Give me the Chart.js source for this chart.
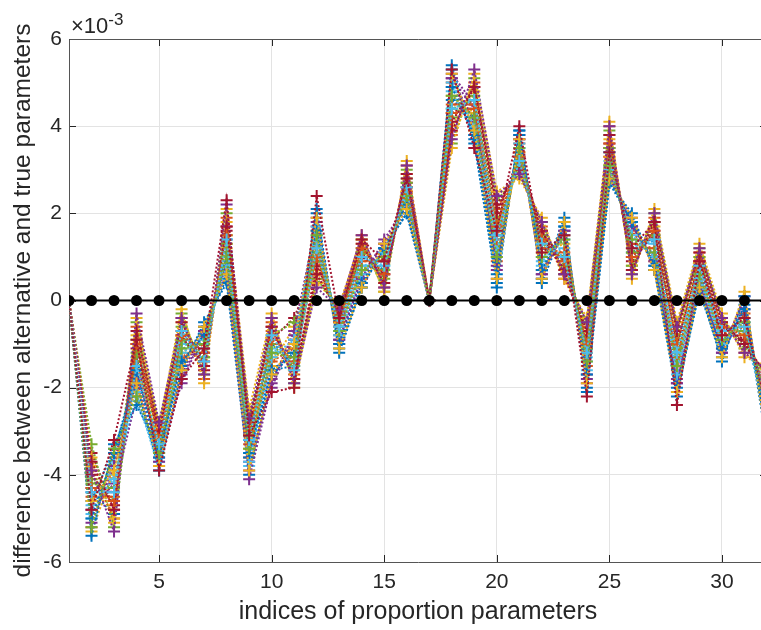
<!DOCTYPE html>
<html>
<head>
<meta charset="utf-8">
<script src="https://cdn.jsdelivr.net/npm/chart.js@4.4.1/dist/chart.umd.min.js"></script>
<style>
  html, body { margin: 0; padding: 0; background: #fff; overflow: hidden; }
  #wrap { width: 780px; height: 630px; }
</style>
</head>
<body>
<div id="wrap"><canvas id="diffChart" width="780" height="630"></canvas></div>
<script>
// parameter indices on the x axis
const paramIndex = [1,2,3,4,5,6,7,8,9,10,11,12,13,14,15,16,17,18,19,20,21,22,23,24,25,26,27,28,29,30,31,32];
// true parameters minus themselves (reference line), in units of 1e-3
const trueDiff = [0,0,0,0,0,0,0,0,0,0,0,0,0,0,0,0,0,0,0,0,0,0,0,0,0,0,0,0,0,0,0,0];

// alternative minus true parameters, one array per run, in units of 1e-3
const run01 = [0,-4.4,-4.9,-1.3,-3.5,-0.9,-1.2,1.4,-3.2,-1.0,-1.3,1.1,-0.5,1.0,0.7,2.6,0,4.6,4.2,1.5,3.3,1.2,1.0,-1.1,3.4,1.1,1.4,-1.2,0.8,-0.7,-0.5,-2.3];
const run02 = [0,-5.2,-3.6,-2.0,-3.1,-1.4,-0.8,0.9,-3.6,-0.7,-1.6,1.6,-0.8,0.6,1.1,2.3,0,5.0,3.9,0.9,3.6,0.7,1.5,-1.5,3.0,1.6,0.9,-1.6,0.5,-1.0,-0.3,-2.8];
const run03 = [0,-3.8,-5.1,-0.8,-3.8,-0.5,-1.5,1.8,-2.8,-1.5,-0.6,0.7,-0.3,1.3,0.4,2.9,0,4.0,4.8,1.9,3.1,1.5,0.7,-0.8,3.7,0.8,1.7,-0.9,1.0,-0.5,-0.8,-1.9];
const run04 = [0,-4.8,-4.2,-1.7,-3.3,-1.7,-0.6,0.6,-3.9,-1.8,-0.9,1.9,-1.0,0.4,1.3,2.1,0,5.2,4.5,0.5,3.8,0.5,1.8,-1.9,2.8,1.9,0.7,-1.9,0.3,-1.2,0.1,-3.1];
const run05 = [0,-4.1,-4.6,-0.5,-3.0,-0.3,-1.7,2.0,-3.0,-0.4,-1.9,0.5,-0.2,1.4,0.2,3.0,0,3.6,5.1,2.3,2.9,1.8,0.6,-0.5,3.9,0.6,2.0,-0.6,1.2,-0.4,-1.1,-1.7];
const run06 = [0,-5.0,-4.0,-2.3,-3.7,-1.1,-1.0,1.0,-3.5,-1.2,-1.1,1.4,-0.7,0.8,0.9,2.4,0,4.9,4.0,1.2,3.5,1.0,1.2,-1.3,3.2,1.3,1.1,-1.4,0.6,-0.9,-0.6,-2.6];
const run07 = [0,-3.5,-4.8,-1.0,-2.9,-0.7,-1.4,1.6,-2.6,-0.9,-0.4,0.9,-0.4,1.1,0.6,2.7,0,4.3,4.6,1.7,3.2,1.4,0.9,-0.9,3.6,0.9,1.6,-1.0,0.9,-0.6,-0.9,-2.0];
const run08 = [0,-4.6,-3.4,-1.9,-3.9,-1.6,-0.5,0.4,-4.0,-1.6,-1.5,2.1,-1.1,0.3,1.2,2.0,0,5.3,3.7,0.3,3.9,0.4,1.7,-2.0,2.7,1.8,0.8,-2.1,0.2,-1.3,-0.1,-3.3];
const run09 = [0,-3.9,-5.0,-0.6,-3.2,-0.4,-1.8,1.9,-3.1,-0.5,-1.7,0.6,-0.2,1.5,0.3,3.1,0,3.8,5.0,2.1,3.0,1.7,0.5,-0.6,4.0,0.7,1.9,-0.7,1.1,-0.4,-1.2,-1.6];
const run10 = [0,-5.3,-3.9,-1.5,-3.4,-1.2,-0.9,1.2,-3.4,-1.3,-1.0,1.3,-0.6,0.7,1.0,2.5,0,4.7,4.3,1.0,3.4,1.1,1.3,-1.2,3.3,1.2,1.2,-1.3,0.7,-0.8,-0.4,-2.5];
const run11 = [0,-4.3,-4.4,-2.2,-3.6,-1.9,-0.7,0.7,-3.7,-2.0,-0.8,1.7,-0.9,0.5,1.4,2.2,0,5.1,4.4,0.7,3.7,0.6,1.6,-1.7,2.9,1.7,1.0,-1.8,0.4,-1.1,0.0,-3.0];
const run12 = [0,-3.3,-5.2,-0.9,-2.8,-0.6,-1.3,1.5,-2.7,-0.8,-0.5,1.0,-0.4,1.2,0.5,2.8,0,4.2,4.7,1.8,3.1,1.5,0.8,-0.7,3.8,0.8,1.8,-0.8,1.0,-0.5,-1.0,-1.8];
const run13 = [0,-4.9,-3.7,-1.6,-3.8,-1.0,-1.1,1.1,-3.8,-1.1,-1.4,1.5,-0.7,0.8,0.8,2.4,0,4.8,3.8,1.3,3.5,0.9,1.4,-1.4,3.1,1.4,1.3,-1.5,0.6,-0.9,-0.7,-2.7];
const run14 = [0,-4.0,-4.7,-1.1,-3.1,-0.8,-1.6,1.7,-2.9,-0.6,-1.8,0.8,-0.3,1.0,0.6,2.6,0,4.1,4.9,2.0,3.3,1.6,0.7,-1.0,3.5,1.0,1.5,-1.1,0.9,-0.6,-0.9,-2.1];
const run15 = [0,-5.4,-3.3,-2.4,-3.4,-1.5,-0.6,0.5,-3.6,-1.7,-1.2,2.0,-1.2,0.3,1.2,2.0,0,5.4,3.6,0.4,3.9,0.5,1.9,-2.1,2.7,2.0,0.7,-2.2,0.3,-1.4,0.1,-3.2];
const run16 = [0,-4.5,-4.5,-1.4,-3.5,-1.3,-1.0,1.3,-3.3,-1.4,-1.1,1.2,-0.6,0.9,0.9,2.5,0,4.5,4.5,1.4,3.4,1.2,1.1,-1.2,3.3,1.3,1.2,-1.3,0.7,-0.8,-0.6,-2.4];
const run17 = [0,-3.6,-5.0,-0.4,-2.9,-0.2,-1.9,2.1,-2.5,-0.3,-2.0,0.4,-0.1,1.4,0.2,3.2,0,3.5,5.2,2.5,2.8,1.9,0.5,-0.4,4.1,0.5,2.1,-0.5,1.3,-0.3,-1.3,-1.5];
const run18 = [0,-5.1,-3.8,-1.8,-3.7,-1.8,-0.7,0.8,-4.1,-1.9,-0.7,1.8,-0.9,0.5,1.3,2.2,0,5.1,4.1,0.8,3.7,0.6,1.6,-1.8,2.9,1.7,0.9,-1.9,0.4,-1.2,-0.2,-2.9];
const run19 = [0,-4.2,-4.3,-1.2,-3.3,-0.9,-1.3,1.3,-3.1,-1.0,-1.5,1.1,-0.5,1.1,0.7,2.7,0,4.4,4.6,1.6,3.2,1.3,1.0,-1.1,3.5,1.1,1.5,-1.1,0.8,-0.7,-0.7,-2.2];
const run20 = [0,-4.7,-4.1,-2.1,-3.9,-1.2,-0.9,0.8,-3.7,-1.3,-0.9,1.7,-0.8,0.6,1.1,2.3,0,5.0,4.0,1.1,3.6,0.8,1.5,-1.6,3.0,1.5,1.0,-1.7,0.5,-1.0,-0.4,-2.8];
const run21 = [0,-3.7,-4.8,-0.7,-3.0,-0.5,-1.5,1.7,-2.8,-0.6,-1.8,0.6,-0.3,1.3,0.4,2.9,0,3.9,4.9,2.2,3.0,1.6,0.6,-0.7,3.8,0.7,1.8,-0.7,1.1,-0.5,-1.0,-1.7];
const run22 = [0,-5.0,-3.5,-1.6,-3.6,-1.4,-0.8,1.0,-3.5,-1.6,-1.2,1.6,-1.0,0.4,1.2,2.2,0,4.9,3.8,0.6,3.8,0.7,1.7,-1.7,2.8,1.8,0.8,-2.0,0.3,-1.1,-0.2,-3.0];
const run23 = [0,-4.3,-4.6,-1.0,-3.2,-0.8,-1.2,1.5,-3.0,-0.9,-1.4,1.0,-0.5,1.2,0.6,2.6,0,4.3,4.4,1.7,3.3,1.4,0.9,-1.0,3.6,1.0,1.6,-1.0,0.9,-0.6,-0.8,-2.1];
const run24 = [0,-4.6,-3.9,-1.9,-3.8,-1.6,-0.6,0.6,-3.9,-1.7,-1.0,1.9,-1.1,0.3,1.3,2.1,0,5.2,3.9,0.5,3.7,0.5,1.8,-1.9,2.8,1.9,0.7,-2.1,0.3,-1.3,0.2,-3.3];
const run25 = [0,-3.9,-5.3,-0.3,-2.8,-0.4,-1.7,2.2,-2.7,-0.4,-1.9,0.3,-0.2,1.5,0.3,3.1,0,3.7,5.3,2.4,2.9,1.8,0.6,-0.5,4.0,0.6,2.0,-0.6,1.2,-0.4,-1.2,-1.6];
const run26 = [0,-5.2,-3.4,-2.2,-3.5,-1.1,-1.0,1.0,-3.4,-1.2,-1.3,1.5,-0.7,0.7,1.0,2.4,0,4.7,4.2,1.0,3.5,1.0,1.4,-1.4,3.1,1.4,1.1,-1.5,0.6,-0.9,-0.5,-2.6];
const run27 = [0,-4.4,-4.4,-1.5,-3.3,-0.7,-1.4,1.4,-3.2,-0.8,-1.6,1.2,-0.6,1.0,0.8,2.6,0,4.4,4.6,1.5,3.2,1.3,1.0,-1.2,3.4,1.2,1.4,-1.2,0.8,-0.7,-0.6,-2.3];
const run28 = [0,-4.8,-3.2,-0.9,-3.9,-1.8,-1.1,2.3,-3.1,-2.1,-2.0,2.4,-0.4,1.4,0.9,2.8,0,5.3,3.5,1.6,4.0,1.1,1.5,-2.2,3.4,1.2,1.8,-2.4,0.9,-0.8,-0.4,-2.5];

const runs = [run01, run02, run03, run04, run05, run06, run07, run08, run09, run10,
              run11, run12, run13, run14, run15, run16, run17, run18, run19, run20,
              run21, run22, run23, run24, run25, run26, run27, run28];

const yTicks = [-6, -4, -2, 0, 2, 4, 6];
const xTicks = [5, 10, 15, 20, 25, 30];

// MATLAB default colour order
const colorOrder = ['#0072BD', '#D95319', '#EDB120', '#7E2F8E', '#77AC30', '#4DBEEE', '#A2142F'];

const FONT = '"Liberation Sans", Helvetica, Arial, sans-serif';
const AXIS_COLOR = '#262626';

const toPoints = ys => ys.map((y, i) => ({ x: paramIndex[i], y: y }));

const datasets = [{
    label: 'true',
    data: toPoints(trueDiff),
    borderColor: '#000',
    backgroundColor: '#000',
    borderWidth: 2,
    pointStyle: 'circle',
    pointRadius: 5.5,
    pointBorderWidth: 0,
    order: 0
}];

runs.forEach((r, i) => {
    const c = colorOrder[i % colorOrder.length];
    datasets.push({
        label: 'run ' + (i + 1),
        data: toPoints(r),
        borderColor: c,
        backgroundColor: c,
        borderWidth: 2,
        borderDash: [2, 2],
        pointStyle: 'cross',
        pointRadius: 6,
        pointBorderWidth: 2,
        order: runs.length - i
    });
});

// inward ticks, box edges and the exponent label, MATLAB style
const matlabAxes = {
    id: 'matlabAxes',
    beforeDatasetsDraw(chart) {
        const { ctx, chartArea: a, scales } = chart;
        const tl = 7;
        ctx.save();
        ctx.strokeStyle = AXIS_COLOR;
        ctx.lineWidth = 1;
        ctx.beginPath();
        xTicks.forEach(t => {
            const px = Math.round(scales.x.getPixelForValue(t)) + 0.5;
            ctx.moveTo(px, a.bottom); ctx.lineTo(px, a.bottom - tl);
            ctx.moveTo(px, a.top); ctx.lineTo(px, a.top + tl);
        });
        yTicks.forEach(t => {
            const py = Math.round(scales.y.getPixelForValue(t)) + 0.5;
            ctx.moveTo(a.left, py); ctx.lineTo(a.left + tl, py);
            ctx.moveTo(a.right, py); ctx.lineTo(a.right - tl, py);
        });
        ctx.stroke();
        ctx.beginPath();
        ctx.strokeStyle = '#555';
        ctx.rect(Math.round(a.left) + 0.5, Math.round(a.top) + 0.5, a.right - a.left, a.bottom - a.top);
        ctx.stroke();
        ctx.restore();
    },
    afterDraw(chart) {
        const { ctx, chartArea: a } = chart;
        ctx.save();
        ctx.fillStyle = AXIS_COLOR;
        ctx.textBaseline = 'alphabetic';
        ctx.textAlign = 'left';
        ctx.font = '22px ' + FONT;
        ctx.fillText('\u00d710', a.left + 2, a.top - 6);
        const w = ctx.measureText('\u00d710').width;
        ctx.font = '17px ' + FONT;
        ctx.fillText('-3', a.left + 2 + w, a.top - 14);
        ctx.restore();
    }
};

new Chart(document.getElementById('diffChart'), {
    type: 'line',
    data: { datasets: datasets },
    plugins: [matlabAxes],
    options: {
        responsive: false,
        animation: false,
        layout: { padding: { top: 39, right: 13, left: 0, bottom: 0 } },
        plugins: { legend: { display: false }, tooltip: { enabled: false } },
        elements: { line: { tension: 0 } },
        scales: {
            x: {
                type: 'linear',
                min: 1,
                max: 32,
                afterBuildTicks: s => { s.ticks = xTicks.map(v => ({ value: v })); },
                afterFit: s => { s.height = 68; },
                grid: { color: '#e3e3e3', drawTicks: false },
                border: { display: false },
                ticks: { color: AXIS_COLOR, font: { family: FONT, size: 21 }, padding: 8, maxRotation: 0 },
                title: { display: true, text: 'indices of proportion parameters', color: AXIS_COLOR,
                         font: { family: FONT, size: 25 }, padding: { top: 0, bottom: 3 } }
            },
            y: {
                type: 'linear',
                min: -6,
                max: 6,
                afterBuildTicks: s => { s.ticks = yTicks.map(v => ({ value: v })); },
                afterFit: s => { s.width = 69; },
                grid: { color: '#e3e3e3', drawTicks: false },
                border: { display: false },
                ticks: { color: AXIS_COLOR, font: { family: FONT, size: 21 }, padding: 7 },
                title: { display: true, text: 'difference between alternative and true parameters', color: AXIS_COLOR,
                         font: { family: FONT, size: 24.5 }, padding: { top: 9, bottom: 0 } }
            }
        }
    }
});
</script>
</body>
</html>
